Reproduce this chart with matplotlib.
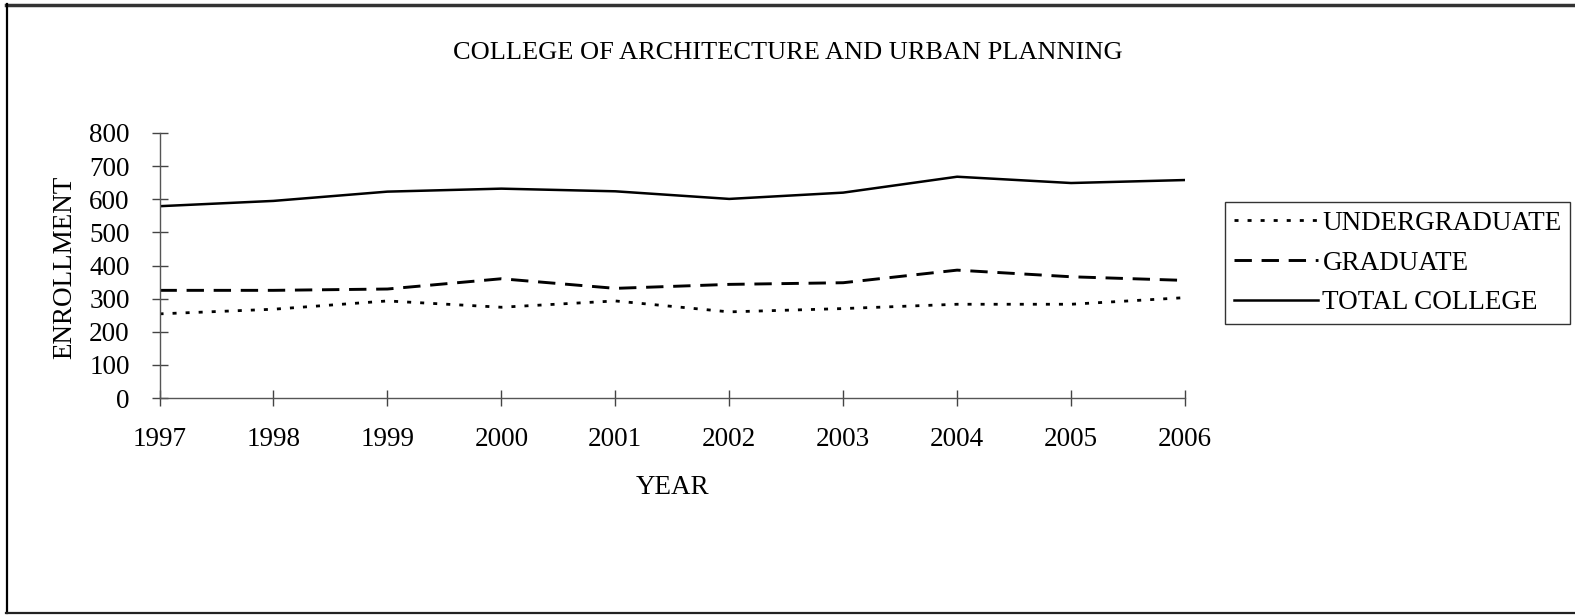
import matplotlib.pyplot as plt
from matplotlib.lines import Line2D

plt.rcParams['font.family'] = ['Liberation Serif', 'DejaVu Serif']
plt.rcParams['lines.scale_dashes'] = False

# data
years = [1997, 1998, 1999, 2000, 2001, 2002, 2003, 2004, 2005, 2006]
undergraduate = [254, 268, 293, 274, 293, 260, 270, 283, 283, 303]
graduate = [325, 325, 329, 360, 331, 343, 348, 386, 366, 355]
total_college = [579, 595, 623, 632, 624, 601, 620, 668, 649, 658]
y_ticks = [0, 100, 200, 300, 400, 500, 600, 700, 800]

FS = 19.5
W, H = 1575, 615
fig = plt.figure(figsize=(W / 100, H / 100), dpi=100)
ax = fig.add_axes([159.5 / W, 1 - 398 / H, (1185 - 159.5) / W, (398 - 133) / H])

ax.plot(years, undergraduate, color='black', lw=2, dashes=(2.9, 6.5),
        dash_capstyle='butt', label='UNDERGRADUATE')
ax.plot(years, graduate, color='black', lw=2.1, dashes=(12.5, 7),
        dash_capstyle='butt', label='GRADUATE')
ax.plot(years, total_college, color='black', lw=1.8, label='TOTAL COLLEGE')

ax.set_xlim(years[0], years[-1])
ax.set_ylim(0, 800)
ax.set_xticks(years)
ax.set_yticks(y_ticks)
ax.tick_params(axis='both', direction='inout', length=12, width=1,
               color='#444444', labelsize=FS)
ax.tick_params(axis='x', pad=15)
ax.tick_params(axis='y', pad=15.5)

for side in ['top', 'right']:
    ax.spines[side].set_visible(False)
for side in ['left', 'bottom']:
    ax.spines[side].set_color('#555555')
    ax.spines[side].set_linewidth(1)

ax.set_xlabel('YEAR', fontsize=FS)
ax.set_ylabel('ENROLLMENT', fontsize=FS)
ax.xaxis.set_label_coords(672.5 / W, 1 - 487 / H, transform=fig.transFigure)
ax.yaxis.set_label_coords(65 / W, 1 - 267 / H, transform=fig.transFigure)
ax.xaxis.label.set_va('center')
ax.yaxis.label.set_va('center')
ax.yaxis.label.set_ha('center')
fig.text(788 / W, 1 - 53 / H, 'COLLEGE OF ARCHITECTURE AND URBAN PLANNING',
         ha='center', va='center', fontsize=19)

leg = ax.legend(loc='center left', bbox_to_anchor=(1225 / W, 1 - 263 / H),
                bbox_transform=fig.transFigure, frameon=True, fancybox=False,
                edgecolor='black', fontsize=FS, handlelength=3.1,
                handletextpad=0.18, borderpad=0.32, labelspacing=0.54,
                borderaxespad=0)
leg.get_frame().set_linewidth(1)

# outer frame of the original page
fig.add_artist(Line2D([6 / W, 1], [1 - 4.5 / H, 1 - 4.5 / H],
                      transform=fig.transFigure, color='#333333', lw=2.5))
fig.add_artist(Line2D([6.7 / W, 6.7 / W], [1 - 4 / H, 1 - 613 / H],
                      transform=fig.transFigure, color='black', lw=1.6))
fig.add_artist(Line2D([6 / W, 1], [1 - 613 / H, 1 - 613 / H],
                      transform=fig.transFigure, color='#222222', lw=1.6))

fig.savefig('out.png', dpi=100)
